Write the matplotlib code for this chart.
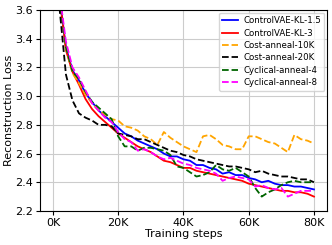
import matplotlib
matplotlib.use('Agg')
import matplotlib.pyplot as plt
import numpy as np
from matplotlib.ticker import FuncFormatter

steps = np.arange(2000, 80001, 2000)

kl_15 = [3.70, 3.34, 3.18, 3.11, 3.02, 2.96, 2.90, 2.86, 2.82, 2.78,
         2.74, 2.72, 2.69, 2.67, 2.65, 2.63, 2.60, 2.58, 2.58, 2.56,
         2.55, 2.52, 2.52, 2.50, 2.49, 2.46, 2.47, 2.45, 2.45, 2.43,
         2.42, 2.40, 2.41, 2.39, 2.38, 2.38, 2.37, 2.37, 2.36, 2.35]
kl_3 = [3.70, 3.32, 3.17, 3.08, 2.98, 2.91, 2.86, 2.82, 2.78, 2.74,
        2.71, 2.68, 2.65, 2.63, 2.61, 2.58, 2.55, 2.54, 2.52, 2.50,
        2.50, 2.48, 2.47, 2.46, 2.45, 2.44, 2.43, 2.42, 2.41, 2.39,
        2.38, 2.37, 2.36, 2.35, 2.34, 2.34, 2.33, 2.33, 2.32, 2.30]
cost_10k = [3.70, 3.33, 3.16, 3.09, 3.01, 2.95, 2.90, 2.87, 2.84, 2.83,
            2.79, 2.78, 2.76, 2.72, 2.70, 2.66, 2.75, 2.71, 2.68, 2.65,
            2.63, 2.61, 2.72, 2.73, 2.70, 2.66, 2.65, 2.63, 2.63, 2.72,
            2.72, 2.70, 2.68, 2.67, 2.64, 2.61, 2.73, 2.70, 2.69, 2.67]
cost_20k = [3.62, 3.15, 2.97, 2.88, 2.85, 2.83, 2.80, 2.80, 2.79, 2.74,
            2.73, 2.72, 2.70, 2.70, 2.68, 2.66, 2.64, 2.62, 2.61, 2.59,
            2.58, 2.56, 2.55, 2.54, 2.53, 2.52, 2.51, 2.51, 2.50, 2.49,
            2.47, 2.48, 2.46, 2.45, 2.44, 2.44, 2.43, 2.42, 2.42, 2.40]
cyc_4 = [3.70, 3.34, 3.17, 3.12, 3.03, 2.96, 2.92, 2.88, 2.84, 2.72,
         2.65, 2.65, 2.62, 2.64, 2.64, 2.63, 2.62, 2.59, 2.51, 2.50,
         2.47, 2.44, 2.45, 2.47, 2.52, 2.49, 2.48, 2.50, 2.47, 2.44,
         2.36, 2.30, 2.33, 2.35, 2.38, 2.40, 2.41, 2.40, 2.40, 2.40]
cyc_8 = [3.72, 3.38, 3.20, 3.13, 3.04, 2.95, 2.90, 2.85, 2.82, 2.75,
         2.70, 2.68, 2.62, 2.63, 2.61, 2.58, 2.56, 2.57, 2.55, 2.53,
         2.52, 2.50, 2.49, 2.48, 2.46, 2.41, 2.43, 2.44, 2.43, 2.42,
         2.37, 2.38, 2.36, 2.35, 2.36, 2.30, 2.32, 2.34, 2.34, 2.34]

fig = plt.figure(figsize=(3.32, 2.45), dpi=100)
ax = fig.add_axes([0.12, 0.139, 0.865, 0.82])

ax.plot(steps, kl_15, '-', color='blue', lw=1.3, label='ControlVAE-KL-1.5')
ax.plot(steps, kl_3, '-', color='red', lw=1.3, label='ControlVAE-KL-3')
ax.plot(steps, cost_10k, '--', color='orange', lw=1.3, label='Cost-anneal-10K')
ax.plot(steps, cost_20k, '--', color='black', lw=1.3, label='Cost-anneal-20K')
ax.plot(steps, cyc_4, '--', color='darkgreen', lw=1.3, label='Cyclical-anneal-4')
ax.plot(steps, cyc_8, '--', color='magenta', lw=1.3, label='Cyclical-anneal-8')

ax.set_xlim(-4000, 84000)
ax.set_ylim(2.2, 3.6)
ax.set_xticks([0, 20000, 40000, 60000, 80000])
ax.xaxis.set_major_formatter(FuncFormatter(lambda v, p: '%dK' % (v / 1000)))
ax.set_yticks(np.arange(2.2, 3.61, 0.2))
ax.tick_params(labelsize=8, length=3, pad=2)
ax.grid(True, color='#cccccc', lw=0.8)
ax.set_xlabel('Training steps', fontsize=8, labelpad=1)
ax.set_ylabel('Reconstruction Loss', fontsize=8, labelpad=1)
ax.legend(loc='upper right', fontsize=6.2, handlelength=1.8, labelspacing=0.4,
          borderpad=0.4, handletextpad=0.6, borderaxespad=0.3)

plt.savefig('out.png', dpi=100)
